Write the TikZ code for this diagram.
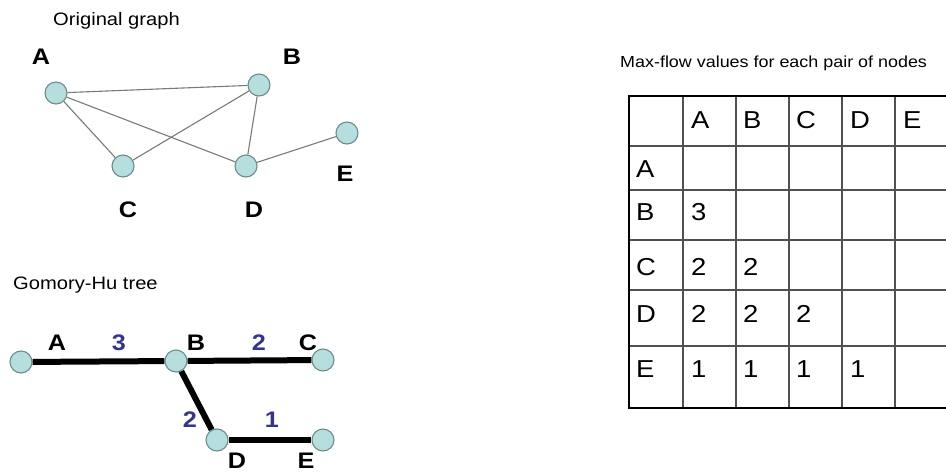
\documentclass[tikz,border=0pt]{standalone}
\usepackage{fontspec}
\setmainfont{Liberation Sans}[FakeStretch=1.12]
\definecolor{nodefill}{HTML}{B7DEDE}
\definecolor{nodeedge}{HTML}{6E8C8C}
\definecolor{edgegray}{HTML}{7A7A7A}
\definecolor{numblue}{HTML}{34348A}
\definecolor{gridgray}{HTML}{505050}
\tikzset{
  vtx/.style={circle,minimum size=22pt,inner sep=0pt,fill=nodefill,draw=nodeedge,line width=1.1pt},
  glabel/.style={inner sep=0pt,font=\fontsize{22.5}{22.5}\selectfont\bfseries},
  wlabel/.style={inner sep=0pt,font=\fontsize{22.5}{22.5}\selectfont\bfseries,text=numblue},
  title/.style={inner sep=0pt,anchor=base west,font=\fontsize{18}{18}\selectfont},
  thin edge/.style={draw=edgegray,line width=1.1pt},
  tree edge/.style={draw=black,line width=6pt},
  cell/.style={inner sep=0pt,anchor=base west,font=\fontsize{24.5}{24.5}\selectfont},
  outer/.style={draw=black,line width=2pt},
  inner/.style={draw=gridgray,line width=1.2pt}
}
\begin{document}
\begin{tikzpicture}[x=1pt,y=-1pt]
\useasboundingbox[fill=white] (0,0) rectangle (946,472);

% ---------- Original graph ----------
\node[title] (t1) at (53,25) {Original graph};
\node[vtx] (A) at (56,93) {};
\node[vtx] (B) at (259,85) {};
\node[vtx] (C) at (123,166) {};
\node[vtx] (D) at (246,166) {};
\node[vtx] (E) at (347,133) {};
\draw[thin edge] (A) -- (B);
\draw[thin edge] (A) -- (C);
\draw[thin edge] (A) -- (D);
\draw[thin edge] (B) -- (C);
\draw[thin edge] (B) -- (D);
\draw[thin edge] (D) -- (E);
\node[glabel] (lA) at (41,57) {A};
\node[glabel] (lB) at (292,57) {B};
\node[glabel] (lC) at (128,210) {C};
\node[glabel] (lD) at (254,210) {D};
\node[glabel] (lE) at (345,174) {E};

% ---------- Gomory-Hu tree ----------
\node[title] (t2) at (13,289) {Gomory-Hu tree};
\node[vtx] (gA) at (21,362) {};
\node[vtx] (gB) at (176,361) {};
\node[vtx] (gC) at (323,360) {};
\node[vtx] (gD) at (217,440) {};
\node[vtx] (gE) at (323,440) {};
\draw[tree edge] (gA) -- (gB);
\draw[tree edge] (gB) -- (gC);
\draw[tree edge] (gB) -- (gD);
\draw[tree edge] (gD) -- (gE);
\node[glabel] (hA) at (57,343) {A};
\node[glabel] (hB) at (196,343) {B};
\node[glabel] (hC) at (308,343) {C};
\node[glabel] (hD) at (237,461) {D};
\node[glabel] (hE) at (306,461) {E};
\node[wlabel] (w3) at (119,343) {3};
\node[wlabel] (w2a) at (259,343) {2};
\node[wlabel] (w2b) at (190,420) {2};
\node[wlabel] (w1) at (272,420) {1};

% ---------- Table ----------
\node[inner sep=0pt,anchor=base west,font=\fontsize{16}{16}\selectfont] (t3) at (620,67) {Max-flow values for each pair of nodes};
\foreach \yy in {146,190,240,290,346} \draw[inner] (629,\yy) -- (946,\yy);
\foreach \xx in {683,736,789,842,895} \draw[inner] (\xx,96) -- (\xx,408);
\draw[outer] (947,96) -- (629,96) -- (629,408) -- (947,408);
% header row
\node[cell] (hcA) at (691,128) {A};
\node[cell] (hcB) at (743,128) {B};
\node[cell] (hcC) at (796,128) {C};
\node[cell] (hcD) at (850,128) {D};
\node[cell] (hcE) at (903,128) {E};
% row labels
\node[cell] (rA) at (636,177) {A};
\node[cell] (rB) at (636,220) {B};
\node[cell] (rC) at (636,275) {C};
\node[cell] (rD) at (636,322) {D};
\node[cell] (rE) at (636,377) {E};
% values
\node[cell] (vBA) at (691,220) {3};
\node[cell] (vCA) at (691,275) {2};
\node[cell] (vCB) at (743,275) {2};
\node[cell] (vDA) at (691,322) {2};
\node[cell] (vDB) at (743,322) {2};
\node[cell] (vDC) at (796,322) {2};
\node[cell] (vEA) at (691,377) {1};
\node[cell] (vEB) at (743,377) {1};
\node[cell] (vEC) at (796,377) {1};
\node[cell] (vED) at (850,377) {1};
\end{tikzpicture}
\end{document}
